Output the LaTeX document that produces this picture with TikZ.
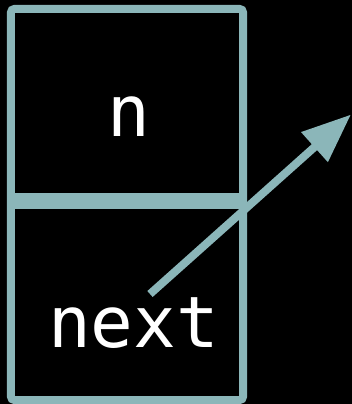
\documentclass[tikz,border=0pt]{standalone}
\usepackage{fontspec}
\newfontfamily\codefont{DejaVu Sans Mono}
\usetikzlibrary{arrows.meta}
\definecolor{edge}{HTML}{8BB6B9}
\tikzset{
  cell/.style={inner sep=0pt},
  frame/.style={draw=edge, line width=8pt},
  label/.style={text=white, font=\codefont\fontsize{71}{71}\selectfont, inner sep=0pt, anchor=base},
  pointer/.style={draw=edge, line width=8pt, -{Triangle[length=49pt,width=38pt]}}
}
\begin{document}
\begin{tikzpicture}[x=1pt,y=-1pt]
  \fill[black] (0,0) rectangle (352,404);
  \useasboundingbox (0,0) rectangle (352,404);
  \node[cell, minimum width=232pt, minimum height=188pt] (top) at (127,103) {};
  \node[cell, minimum width=232pt, minimum height=195pt] (bottom) at (127,302.5) {};
  \draw[frame, rounded corners=4pt] (top.north west) rectangle (bottom.south east);
  \draw[frame] (top.south west) -- (top.south east);
  \draw[frame] (bottom.north west) -- (bottom.north east);
  \node[label] (n) at (128.5,136) {n};
  \node[label] (next) at (133.5,347) {next};
  \coordinate (start) at (150,294);
  \coordinate (tip) at (351,114.5);
  \draw[pointer] (start) -- (tip);
\end{tikzpicture}
\end{document}
